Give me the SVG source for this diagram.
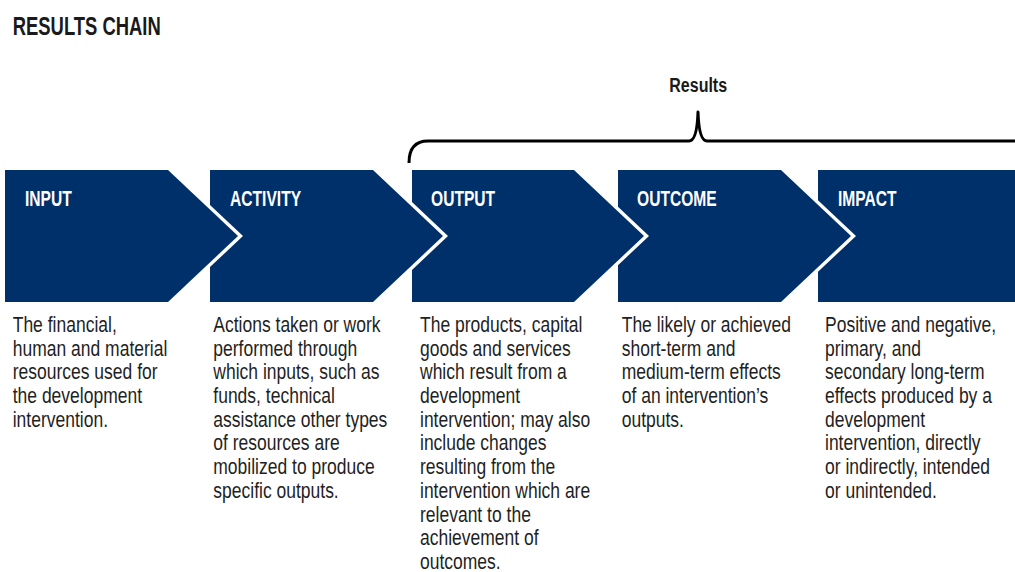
<svg xmlns="http://www.w3.org/2000/svg" width="1015" height="572" viewBox="0 0 1015 572">
  <style>
    .box { fill: #003069; }
    .title { font-family: "Liberation Sans", Arial, sans-serif; font-weight: bold; font-size: 25.6px; fill: #1a1a1a; }
    .group-label { font-family: "Liberation Sans", Arial, sans-serif; font-weight: bold; font-size: 20px; fill: #1a1a1a; }
    .head { font-family: "Liberation Sans", Arial, sans-serif; font-weight: bold; font-size: 22.3px; fill: #ffffff; }
    .body { font-family: "Liberation Sans", Arial, sans-serif; font-size: 21.5px; fill: #1f1f1f; }
    .brace { fill: none; stroke: #000000; stroke-width: 3; stroke-linecap: butt; stroke-linejoin: round; }
  </style>

  <rect x="0" y="0" width="1015" height="572" fill="#ffffff"/>

  <text class="title" transform="translate(12.7,35) scale(0.72,1)">RESULTS CHAIN</text>

  <!-- brace spanning output, outcome and impact -->
  <g id="connectors">
    <path class="brace" d="M 409 163 Q 409 141 428 141 L 689 141 Q 697 141 698 112 Q 699 141 707 141 L 1018 141"/>
  </g>
  <text class="group-label" transform="translate(669.3,91.7) scale(0.8,1)">Results</text>

  <g id="input">
    <polygon class="box" points="5,170 168,170 238,236 168,302 5,302"/>
    <text class="head" transform="translate(25,205.5) scale(0.7,1)">INPUT</text>
    <text class="body" transform="translate(12.7,332) scale(0.814,1)">
      <tspan x="0" y="0">The financial,</tspan>
      <tspan x="0" dy="23.7">human and material</tspan>
      <tspan x="0" dy="23.7">resources used for</tspan>
      <tspan x="0" dy="23.7">the development</tspan>
      <tspan x="0" dy="23.7">intervention.</tspan>
    </text>
  </g>

  <g id="activity">
    <polygon class="box" points="210,170 373,170 443,236 373,302 210,302 210,267.1 243,236 210,204.9"/>
    <text class="head" transform="translate(230,205.5) scale(0.7,1)">ACTIVITY</text>
    <text class="body" transform="translate(213.3,332) scale(0.814,1)">
      <tspan x="0" y="0">Actions taken or work</tspan>
      <tspan x="0" dy="23.7">performed through</tspan>
      <tspan x="0" dy="23.7">which inputs, such as</tspan>
      <tspan x="0" dy="23.7">funds, technical</tspan>
      <tspan x="0" dy="23.7">assistance other types</tspan>
      <tspan x="0" dy="23.7">of resources are</tspan>
      <tspan x="0" dy="23.7">mobilized to produce</tspan>
      <tspan x="0" dy="23.7">specific outputs.</tspan>
    </text>
  </g>

  <g id="output">
    <polygon class="box" points="412,170 574,170 644,236 574,302 412,302 412,269.9 448,236 412,202.1"/>
    <text class="head" transform="translate(431,205.5) scale(0.7,1)">OUTPUT</text>
    <text class="body" transform="translate(420,332) scale(0.814,1)">
      <tspan x="0" y="0">The products, capital</tspan>
      <tspan x="0" dy="23.7">goods and services</tspan>
      <tspan x="0" dy="23.7">which result from a</tspan>
      <tspan x="0" dy="23.7">development</tspan>
      <tspan x="0" dy="23.7">intervention; may also</tspan>
      <tspan x="0" dy="23.7">include changes</tspan>
      <tspan x="0" dy="23.7">resulting from the</tspan>
      <tspan x="0" dy="23.7">intervention which are</tspan>
      <tspan x="0" dy="23.7">relevant to the</tspan>
      <tspan x="0" dy="23.7">achievement of</tspan>
      <tspan x="0" dy="23.7">outcomes.</tspan>
    </text>
  </g>

  <g id="outcome">
    <polygon class="box" points="618,170 781,170 851,236 781,302 618,302 618,265.2 649,236 618,206.8"/>
    <text class="head" transform="translate(637,205.5) scale(0.7,1)">OUTCOME</text>
    <text class="body" transform="translate(621.7,332) scale(0.814,1)">
      <tspan x="0" y="0">The likely or achieved</tspan>
      <tspan x="0" dy="23.7">short-term and</tspan>
      <tspan x="0" dy="23.7">medium-term effects</tspan>
      <tspan x="0" dy="23.7">of an intervention’s</tspan>
      <tspan x="0" dy="23.7">outputs.</tspan>
    </text>
  </g>

  <g id="impact">
    <polygon class="box" points="818,170 1015,170 1015,302 818,302 818,271.8 856,236 818,200.2"/>
    <text class="head" transform="translate(838,205.5) scale(0.7,1)">IMPACT</text>
    <text class="body" transform="translate(825,332) scale(0.814,1)">
      <tspan x="0" y="0">Positive and negative,</tspan>
      <tspan x="0" dy="23.7">primary, and</tspan>
      <tspan x="0" dy="23.7">secondary long-term</tspan>
      <tspan x="0" dy="23.7">effects produced by a</tspan>
      <tspan x="0" dy="23.7">development</tspan>
      <tspan x="0" dy="23.7">intervention, directly</tspan>
      <tspan x="0" dy="23.7">or indirectly, intended</tspan>
      <tspan x="0" dy="23.7">or unintended.</tspan>
    </text>
  </g>
</svg>
